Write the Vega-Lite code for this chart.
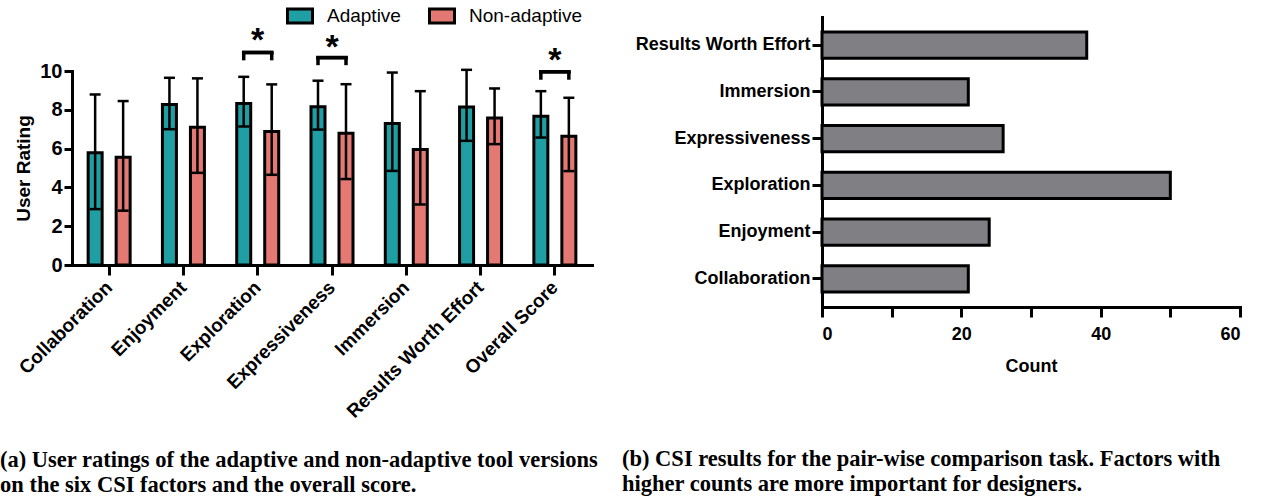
{
  "$schema": "https://vega.github.io/schema/vega-lite/v6.json",
  "padding": {"left": 0, "top": 2, "right": 0, "bottom": 0},
  "background": "white",
  "datasets": {
    "ratings": [
      {"Factor": "Collaboration", "Version": "Adaptive", "Mean": 5.78, "Lower": 2.88, "Upper": 8.79},
      {"Factor": "Collaboration", "Version": "Non-adaptive", "Mean": 5.56, "Lower": 2.80, "Upper": 8.45},
      {"Factor": "Enjoyment", "Version": "Adaptive", "Mean": 8.27, "Lower": 7.00, "Upper": 9.65},
      {"Factor": "Enjoyment", "Version": "Non-adaptive", "Mean": 7.10, "Lower": 4.75, "Upper": 9.62},
      {"Factor": "Exploration", "Version": "Adaptive", "Mean": 8.32, "Lower": 7.14, "Upper": 9.70},
      {"Factor": "Exploration", "Version": "Non-adaptive", "Mean": 6.88, "Lower": 4.65, "Upper": 9.31},
      {"Factor": "Expressiveness", "Version": "Adaptive", "Mean": 8.16, "Lower": 6.98, "Upper": 9.50},
      {"Factor": "Expressiveness", "Version": "Non-adaptive", "Mean": 6.79, "Lower": 4.43, "Upper": 9.32},
      {"Factor": "Immersion", "Version": "Adaptive", "Mean": 7.29, "Lower": 4.85, "Upper": 9.92},
      {"Factor": "Immersion", "Version": "Non-adaptive", "Mean": 5.95, "Lower": 3.12, "Upper": 8.96},
      {"Factor": "Results Worth Effort", "Version": "Adaptive", "Mean": 8.15, "Lower": 6.40, "Upper": 10.06},
      {"Factor": "Results Worth Effort", "Version": "Non-adaptive", "Mean": 7.58, "Lower": 6.23, "Upper": 9.10},
      {"Factor": "Overall Score", "Version": "Adaptive", "Mean": 7.67, "Lower": 6.57, "Upper": 8.96},
      {"Factor": "Overall Score", "Version": "Non-adaptive", "Mean": 6.64, "Lower": 4.84, "Upper": 8.62}
    ],
    "brackets": [
      {"Factor": "Exploration", "Version": "Adaptive", "Top": 10.96, "Bottom": 10.55},
      {"Factor": "Exploration", "Version": "Non-adaptive", "Top": 10.96, "Bottom": 10.55},
      {"Factor": "Expressiveness", "Version": "Adaptive", "Top": 10.69, "Bottom": 10.30},
      {"Factor": "Expressiveness", "Version": "Non-adaptive", "Top": 10.69, "Bottom": 10.30},
      {"Factor": "Overall Score", "Version": "Adaptive", "Top": 9.96, "Bottom": 9.55},
      {"Factor": "Overall Score", "Version": "Non-adaptive", "Top": 9.96, "Bottom": 9.55}
    ],
    "stars": [
      {"Factor": "Exploration", "Star": 11.55, "Label": "*"},
      {"Factor": "Expressiveness", "Star": 11.2, "Label": "*"},
      {"Factor": "Overall Score", "Star": 10.52, "Label": "*"}
    ],
    "csi": [
      {"Factor": "Results Worth Effort", "Count": 38},
      {"Factor": "Immersion", "Count": 21},
      {"Factor": "Expressiveness", "Count": 26},
      {"Factor": "Exploration", "Count": 50},
      {"Factor": "Enjoyment", "Count": 24},
      {"Factor": "Collaboration", "Count": 21}
    ]
  },
  "hconcat": [
    {
      "width": 520,
      "height": 248,
      "title": {
        "text": ["(a) User ratings of the adaptive and non-adaptive tool versions", "on the six CSI factors and the overall score."],
        "orient": "bottom",
        "anchor": "start",
        "frame": "group",
        "dx": -72,
        "offset": 28
      },
      "layer": [
        {
          "data": {"name": "ratings"},
          "mark": {"type": "bar", "stroke": "black", "strokeWidth": 3},
          "encoding": {
            "x": {
              "field": "Factor", "type": "nominal",
              "sort": ["Collaboration", "Enjoyment", "Exploration", "Expressiveness", "Immersion", "Results Worth Effort", "Overall Score"],
              "scale": {"paddingInner": 0, "paddingOuter": 0},
              "axis": {"title": null, "labelAngle": -45, "labelAlign": "right", "labelBaseline": "middle", "labelFontSize": 19, "labelLimit": 0, "tickSize": 10, "labelPadding": 9}
            },
            "xOffset": {
              "field": "Version", "type": "nominal",
              "scale": {"paddingInner": 0.5, "paddingOuter": 0.5765}
            },
            "y": {
              "field": "Mean", "type": "quantitative",
              "scale": {"domain": [0, 10], "range": [248, 54], "nice": false},
              "axis": {"title": "User Rating", "values": [0, 2, 4, 6, 8, 10], "tickSize": 8, "labelPadding": 2, "labelFontSize": 20, "titleFontSize": 19, "titlePadding": 6}
            },
            "fill": {
              "field": "Version", "type": "nominal",
              "scale": {"domain": ["Adaptive", "Non-adaptive"], "range": ["#1f9ea3", "#e47872"]},
              "legend": {
                "orient": "none", "legendX": 214, "legendY": -15, "direction": "horizontal", "title": null,
                "symbolType": "M-1,-0.56H1V0.56H-1Z", "symbolSize": 625,
                "symbolStrokeColor": "black", "symbolStrokeWidth": 3, "symbolOpacity": 1,
                "labelFont": "Liberation Sans", "labelFontSize": 19, "labelFontWeight": "normal", "labelColor": "black",
                "labelOffset": 13, "columnPadding": 22, "padding": 0
              }
            }
          }
        },
        {
          "data": {"name": "ratings"},
          "mark": {"type": "rule", "stroke": "black", "strokeWidth": 2.5},
          "encoding": {
            "x": {"field": "Factor", "type": "nominal", "sort": ["Collaboration", "Enjoyment", "Exploration", "Expressiveness", "Immersion", "Results Worth Effort", "Overall Score"]},
            "xOffset": {"field": "Version", "type": "nominal"},
            "y": {"field": "Lower", "type": "quantitative"},
            "y2": {"field": "Upper"}
          }
        },
        {
          "data": {"name": "ratings"},
          "mark": {"type": "tick", "color": "black", "thickness": 2.5, "size": 11, "opacity": 1},
          "encoding": {
            "x": {"field": "Factor", "type": "nominal", "sort": ["Collaboration", "Enjoyment", "Exploration", "Expressiveness", "Immersion", "Results Worth Effort", "Overall Score"]},
            "xOffset": {"field": "Version", "type": "nominal"},
            "y": {"field": "Upper", "type": "quantitative"}
          }
        },
        {
          "data": {"name": "ratings"},
          "mark": {"type": "tick", "color": "black", "thickness": 2.5, "size": 11, "opacity": 1},
          "encoding": {
            "x": {"field": "Factor", "type": "nominal", "sort": ["Collaboration", "Enjoyment", "Exploration", "Expressiveness", "Immersion", "Results Worth Effort", "Overall Score"]},
            "xOffset": {"field": "Version", "type": "nominal"},
            "y": {"field": "Lower", "type": "quantitative"}
          }
        },
        {
          "data": {"name": "brackets"},
          "mark": {"type": "rule", "stroke": "black", "strokeWidth": 3.5},
          "encoding": {
            "x": {"field": "Factor", "type": "nominal", "sort": ["Collaboration", "Enjoyment", "Exploration", "Expressiveness", "Immersion", "Results Worth Effort", "Overall Score"]},
            "xOffset": {"field": "Version", "type": "nominal"},
            "y": {"field": "Bottom", "type": "quantitative"},
            "y2": {"field": "Top"}
          }
        },
        {
          "data": {"name": "brackets"},
          "mark": {"type": "tick", "color": "black", "thickness": 3.5, "size": 31.5, "opacity": 1},
          "encoding": {
            "x": {"field": "Factor", "type": "nominal", "sort": ["Collaboration", "Enjoyment", "Exploration", "Expressiveness", "Immersion", "Results Worth Effort", "Overall Score"]},
            "y": {"field": "Top", "type": "quantitative"}
          }
        },
        {
          "data": {"name": "stars"},
          "mark": {"type": "text", "font": "Liberation Sans", "fontWeight": "bold", "fontSize": 34, "baseline": "middle", "align": "center", "color": "black"},
          "encoding": {
            "x": {"field": "Factor", "type": "nominal", "sort": ["Collaboration", "Enjoyment", "Exploration", "Expressiveness", "Immersion", "Results Worth Effort", "Overall Score"]},
            "y": {"field": "Star", "type": "quantitative"},
            "text": {"field": "Label"}
          }
        }
      ]
    },
    {
      "width": 418,
      "height": 290,
      "title": {
        "text": ["(b) CSI results for the pair-wise comparison task. Factors with", "higher counts are more important for designers."],
        "orient": "bottom",
        "anchor": "start",
        "frame": "group",
        "dx": -200,
        "offset": 73
      },
      "data": {"name": "csi"},
      "mark": {"type": "bar", "fill": "#7f7f84", "stroke": "black", "strokeWidth": 3},
      "encoding": {
        "y": {
          "field": "Factor", "type": "nominal",
          "sort": ["Results Worth Effort", "Immersion", "Expressiveness", "Exploration", "Enjoyment", "Collaboration"],
          "scale": {"paddingInner": 0.44, "paddingOuter": 0.32},
          "axis": {"title": null, "tickSize": 10, "labelPadding": 2, "labelLimit": 0}
        },
        "x": {
          "field": "Count", "type": "quantitative",
          "scale": {"domain": [0, 60], "nice": false},
          "axis": {"title": "Count", "values": [0, 10, 20, 30, 40, 50, 60], "labelExpr": "datum.value % 20 === 0 ? datum.label : ''", "tickSize": 10, "labelPadding": 8, "titlePadding": 14}
        }
      }
    }
  ],
  "spacing": 230,
  "bounds": "flush",
  "config": {
    "view": {"stroke": null},
    "axis": {
      "grid": false,
      "domainColor": "black", "domainWidth": 3, "domainCap": "square",
      "tickColor": "black", "tickWidth": 3,
      "labelFont": "Liberation Sans", "labelFontWeight": "bold", "labelFontSize": 18, "labelColor": "black",
      "titleFont": "Liberation Sans", "titleFontWeight": "bold", "titleFontSize": 18, "titleColor": "black"
    },
    "title": {"font": "Liberation Serif", "fontWeight": "bold", "fontSize": 22.5, "color": "black", "lineHeight": 25}
  }
}
